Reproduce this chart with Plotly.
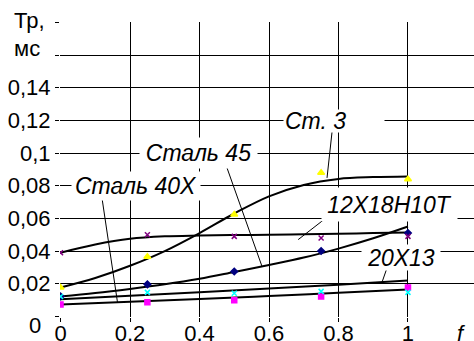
import plotly.graph_objects as go

# Measured points (relative parameter f)
pts_x = [0, 0.25, 0.5, 0.75, 1.0]
st3_pts = [0.0177, 0.0365, 0.0624, 0.088, 0.084]
st45_pts = [0.0122, 0.0196, 0.0275, 0.040, 0.051]
st40x_pts = [0.0073, 0.0086, 0.0098, 0.0122, 0.0177]
x20x13_pts = [0.0122, 0.0147, 0.0142, 0.0153, 0.0147]
x12x18_pts = [0.039, 0.050, 0.049, 0.048, 0.049]

# Trend curves
fit_x = [0, 0.1, 0.2, 0.3, 0.4, 0.5, 0.6, 0.7, 0.8, 0.9, 1.0]
st3_fit = [0.0177, 0.0235, 0.0310, 0.0400, 0.0510, 0.0630, 0.0735, 0.0805, 0.0842, 0.0853, 0.0857]
st45_fit = [0.0122, 0.0143, 0.0168, 0.0196, 0.0230, 0.0272, 0.0315, 0.0360, 0.0415, 0.0478, 0.0550]
x12x18_fit = [0.0390, 0.0440, 0.0475, 0.0490, 0.0495, 0.0498, 0.0500, 0.0503, 0.0506, 0.0510, 0.0514]
lin_x = [0, 0.2, 0.4, 0.6, 0.8, 1.0]
x20x13_fit = [0.0104, 0.0126, 0.0148, 0.0170, 0.0194, 0.0220]
st40x_fit = [0.0073, 0.0090, 0.0106, 0.0124, 0.0144, 0.0165]

x_ticks = [0, 0.2, 0.4, 0.6, 0.8, 1.0]
x_tick_text = ["0", "0.2", "0.4", "0.6", "0.8", "1"]
y_ticks = [0, 0.02, 0.04, 0.06, 0.08, 0.10, 0.12, 0.14, 0.16, 0.18]
y_tick_text = ["", "0,02", "0,04", "0,06", "0,08", "0,1", "0,12", "0,14", "", ""]

FONT = "Liberation Sans"

fig = go.Figure()

for xs, ys in [(fit_x, st3_fit), (fit_x, st45_fit), (fit_x, x12x18_fit),
               (lin_x, x20x13_fit), (lin_x, st40x_fit)]:
    fig.add_trace(go.Scatter(x=xs, y=ys, mode="lines", line_shape="spline",
                             line=dict(color="black", width=2), hoverinfo="skip"))

marker_series = [
    (st45_pts, "#000080", "diamond", 5),
    (st40x_pts, "#FF00FF", "square", 5),
    (st3_pts, "#FFFF00", "triangle-up", 6),
    (x20x13_pts, "#00FFFF", "x-thin-open", 5),
    (x12x18_pts, "#800080", "x-thin-open", 5),
]
for ys, col, sym, size in marker_series:
    fig.add_trace(go.Scatter(x=pts_x, y=ys, mode="markers",
                             marker=dict(color=col, symbol=sym, size=size,
                                         line=dict(color=col, width=1.5))))

# leader lines from labels to curves
leaders = [
    (0.782, 0.1141, 0.767, 0.0848),
    (0.474, 0.0940, 0.580, 0.0305),
    (0.118, 0.0744, 0.164, 0.0085),
    (0.776, 0.0622, 0.684, 0.0470),
    (0.943, 0.0317, 0.925, 0.0207),
]
for x0, y0, x1, y1 in leaders:
    fig.add_shape(type="line", x0=x0, y0=y0, x1=x1, y1=y1, xref="x", yref="y",
                  line=dict(color="black", width=1), layer="above")

labels = [
    ("Ст. 3", 0.787, 0.1196, 98, 20, "left"),
    ("Сталь 45", 0.398, 0.1001, 115, 28, "center"),
    ("Сталь 40X", 0.218, 0.0799, 126, 26, "center"),
    ("12X18H10T", 0.947, 0.0686, 133, 31, "center"),
    ("20X13", 0.980, 0.0363, 76, 23, "center"),
]
for txt, x, y, w, h, al in labels:
    fig.add_annotation(x=x, y=y, xref="x", yref="y", text="<i>" + txt + "</i>",
                       showarrow=False, bgcolor="white", width=w, height=h, align=al,
                       font=dict(family=FONT, size=23, color="black"))

# axis captions (paper coordinates: plot area spans 414 x 295 px)
for txt, px, py, xa in [("0", 35, 325, "center"),
                        ("мс", 12, 48, "left"),
                        ("Тр,", 12, 20, "left")]:
    fig.add_annotation(x=(px - 60) / 414, y=(317 - py) / 295, xref="paper", yref="paper",
                       text=txt, showarrow=False, xanchor=xa, yanchor="middle",
                       font=dict(family=FONT, size=22, color="black"))
fig.add_annotation(x=(468 - 60) / 414, y=(317 - 333) / 295, xref="paper", yref="paper",
                   text="<i>f</i>", showarrow=False, yanchor="middle",
                   font=dict(family=FONT, size=22, color="black"))

fig.update_layout(
    width=474, height=341,
    margin=dict(l=60, r=0, t=22, b=24),
    paper_bgcolor="white", plot_bgcolor="white",
    showlegend=False,
    font=dict(family=FONT, size=22, color="black"),
)
fig.update_xaxes(range=[-0.0015, 1.19], tickvals=x_ticks, ticktext=x_tick_text,
                 showgrid=True, gridcolor="black", gridwidth=1, zeroline=False,
                 ticks="outside", ticklen=4, tickcolor="black", showline=False,
                 automargin=False, ticklabelstandoff=-7,
                 tickfont=dict(family=FONT, size=22))
fig.update_yaxes(range=[-0.0004, 0.1803], tickvals=y_ticks, ticktext=y_tick_text,
                 showgrid=True, gridcolor="black", gridwidth=1, zeroline=False,
                 ticks="outside", ticklen=4, tickcolor="black", showline=False,
                 automargin=False, tickfont=dict(family=FONT, size=22))

fig.write_html("out.html")
